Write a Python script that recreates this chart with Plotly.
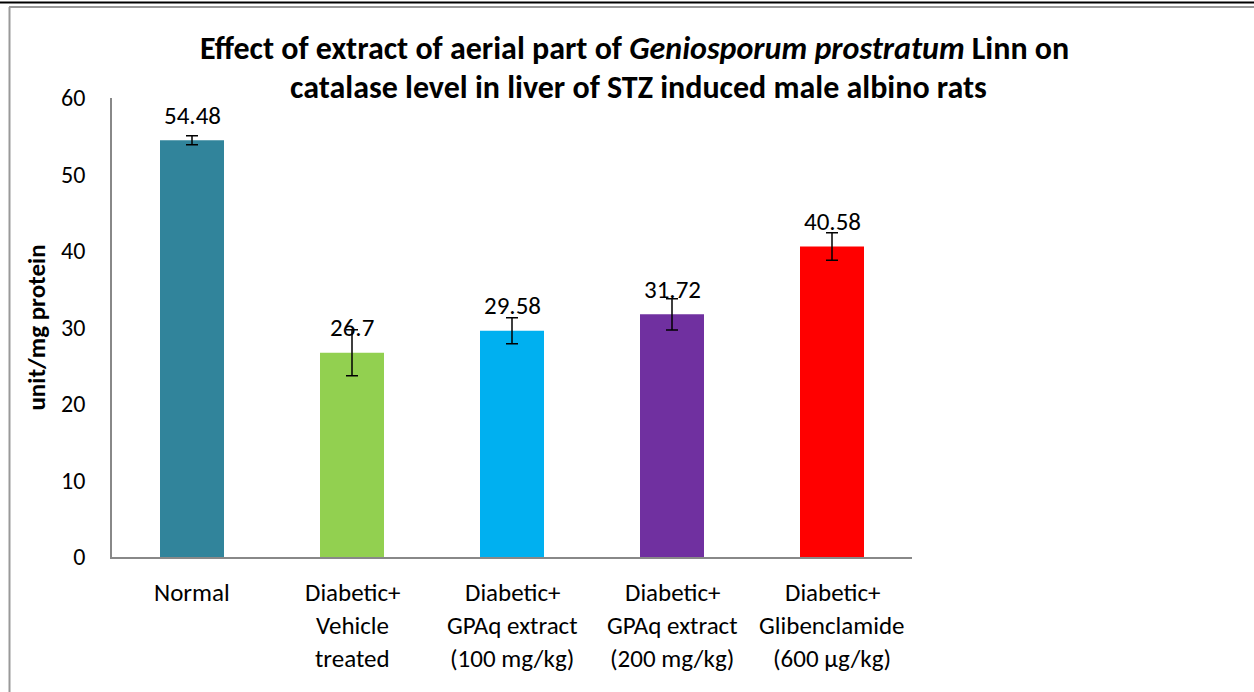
import plotly.graph_objects as go

categories = ["Normal", "Diabetic+ Vehicle treated", "Diabetic+ GPAq extract (100 mg/kg)",
              "Diabetic+ GPAq extract (200 mg/kg)", "Diabetic+ Glibenclamide (600 µg/kg)"]
tick_lines = [["Normal"], ["Diabetic+", "Vehicle", "treated"],
              ["Diabetic+", "GPAq extract", "(100 mg/kg)"],
              ["Diabetic+", "GPAq extract", "(200 mg/kg)"],
              ["Diabetic+", "Glibenclamide", "(600 µg/kg)"]]
values = [54.48, 26.7, 29.58, 31.72, 40.58]
errors = [0.6, 3.0, 1.7, 2.05, 1.8]
colors = ["#31849B", "#92D050", "#00B0F0", "#7030A0", "#FF0000"]
y_ticks = [0, 10, 20, 30, 40, 50, 60]

FONT = "Carlito, Calibri, Lato, sans-serif"

L, R, T, B = 112, 342, 98, 135
W, H = 1254, 692
pw, ph = W - L - R, H - T - B


def px_x(px):
    return (px - L) / pw


def px_y(py):
    return (H - B - py) / ph


fig = go.Figure()
fig.add_trace(go.Bar(
    x=categories, y=values, marker=dict(color=colors, line=dict(width=0)),
    width=0.4,
    error_y=dict(type="data", array=errors, visible=True, color="black",
                 thickness=1.5, width=6),
    showlegend=False, hoverinfo="x+y",
))

annotations = []
for c, v in zip(categories, values):
    annotations.append(dict(x=c, y=v, xref="x", yref="y", text=f"{v:g}",
                            showarrow=False, yanchor="middle", yshift=25,
                            font=dict(family=FONT, size=25, color="black")))
for c, lines in zip(categories, tick_lines):
    for i, ln in enumerate(lines):
        annotations.append(dict(x=c, y=0, xref="x", yref="paper", text=ln,
                                showarrow=False, yanchor="middle", yshift=-(35 + 33 * i),
                                font=dict(family=FONT, size=25, color="black")))
annotations.append(dict(x=px_x(634), y=px_y(48), xref="paper", yref="paper",
                        text="<b>Effect of extract of aerial part of <i>Geniosporum prostratum</i> Linn on</b>",
                        showarrow=False, yanchor="middle", xanchor="center",
                        font=dict(family=FONT, size=32, color="black")))
annotations.append(dict(x=px_x(638), y=px_y(87), xref="paper", yref="paper",
                        text="<b>catalase level in liver of STZ induced male albino rats</b>",
                        showarrow=False, yanchor="middle", xanchor="center",
                        font=dict(family=FONT, size=32, color="black")))

shapes = [
    dict(type="line", xref="paper", yref="paper", x0=px_x(0), x1=px_x(1254),
         y0=px_y(2.5), y1=px_y(2.5), line=dict(color="black", width=2)),
    dict(type="line", xref="paper", yref="paper", x0=px_x(9), x1=px_x(1254),
         y0=px_y(7), y1=px_y(7), line=dict(color="#999999", width=2)),
    dict(type="line", xref="paper", yref="paper", x0=px_x(9.5), x1=px_x(9.5),
         y0=px_y(7), y1=px_y(692), line=dict(color="#999999", width=2)),
]

fig.update_layout(
    width=W, height=H,
    margin=dict(l=L, r=R, t=T, b=B, pad=0),
    paper_bgcolor="white", plot_bgcolor="white",
    font=dict(family=FONT, size=24, color="black"),
    xaxis=dict(showticklabels=False, showline=True, linecolor="#888888", linewidth=1.5,
               ticks="", showgrid=False, zeroline=False),
    yaxis=dict(range=[0, 60], tickvals=y_ticks, showline=True, linecolor="#888888",
               linewidth=1.5, ticks="", showgrid=False, zeroline=False,
               tickfont=dict(family=FONT, size=24), ticklabelstandoff=20,
               title=dict(text="<b>unit/mg protein</b>", font=dict(family=FONT, size=25),
                          standoff=8)),
    annotations=annotations,
    shapes=shapes,
)

fig.write_html("out.html", config={"displayModeBar": False},
               post_script="document.body.style.margin='0';document.body.style.padding='0';")
